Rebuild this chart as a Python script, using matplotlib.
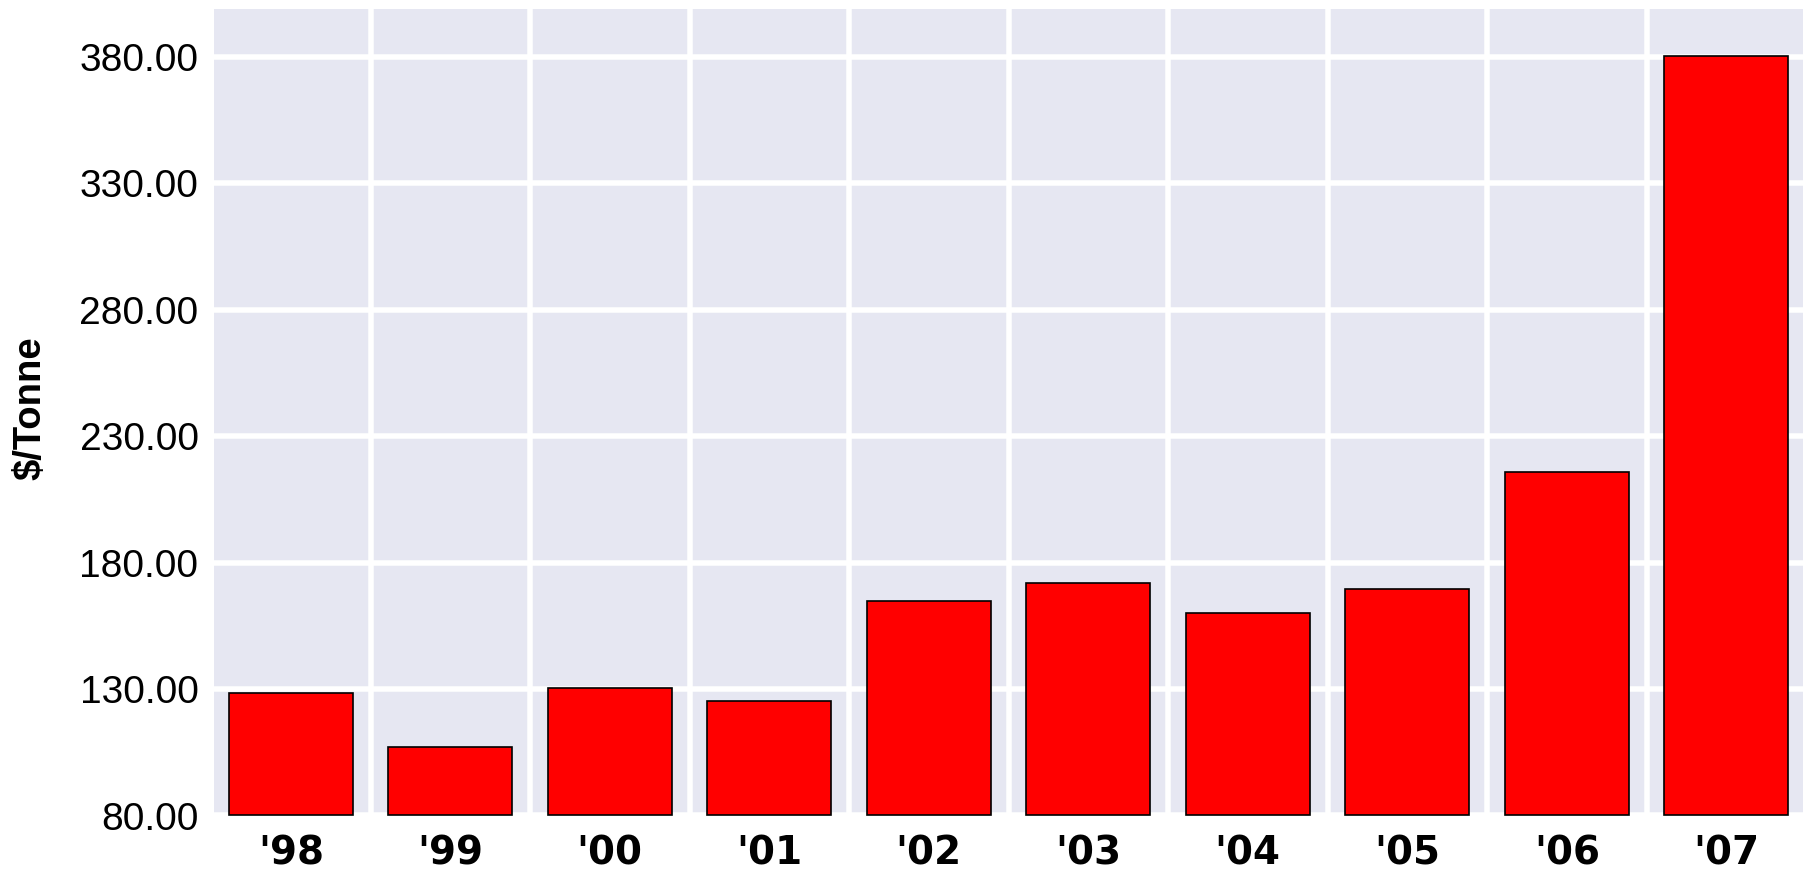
import matplotlib
matplotlib.use("Agg")
import matplotlib.pyplot as plt
from matplotlib.patches import Rectangle
from matplotlib.ticker import FixedLocator, FuncFormatter

# ---- data ----
years = ["'98", "'99", "'00", "'01", "'02", "'03", "'04", "'05", "'06", "'07"]
prices = [128.5, 107.0, 130.6, 125.2, 164.8, 172.0, 160.1, 169.4, 215.8, 380.4]
y_ticks = [80, 130, 180, 230, 280, 330, 380]
y_label = "$/Tonne"

W, H, DPI = 1809, 871, 100
fig = plt.figure(figsize=(W / DPI, H / DPI), dpi=DPI, facecolor="white")

# axes box in pixels
ax_l, ax_r, ax_t, ax_b = 211, 1806, 6.5, 815.5
ax = fig.add_axes([ax_l / W, 1 - ax_b / H, (ax_r - ax_l) / W, (ax_b - ax_t) / H])
ax.set_facecolor("white")

bg_color = "#E6E7F2"
grid_w_px = 5.5
inset = grid_w_px / 2
ax_w_px = ax_r - ax_l
ax_h_px = ax_b - ax_t
bg = Rectangle((inset / ax_w_px, inset / ax_h_px),
               1 - 2 * inset / ax_w_px, 1 - 2 * inset / ax_h_px,
               transform=ax.transAxes, facecolor=bg_color, edgecolor="none",
               zorder=0)
ax.add_patch(bg)

x = list(range(len(years)))
ax.bar(x, [p - y_ticks[0] for p in prices], bottom=y_ticks[0], width=0.78,
       color="#FF0000", edgecolor="black", linewidth=1.2, zorder=3)

ax.set_xlim(-0.5, len(years) - 0.5)
ax.set_ylim(80, 400)

# ticks
ax.yaxis.set_major_locator(FixedLocator(y_ticks))
ax.yaxis.set_major_formatter(FuncFormatter(lambda v, p: f"{v:.2f}"))
ax.set_xticks(x)
ax.set_xticklabels(years)
ax.xaxis.set_minor_locator(FixedLocator([i + 0.5 for i in range(len(years) - 1)]))

ax.tick_params(axis="both", which="both", length=0)
ax.tick_params(axis="y", pad=9)
ax.tick_params(axis="x", pad=13.5)

for lab in ax.get_yticklabels():
    lab.set_fontfamily("Liberation Sans")
    lab.set_fontsize(28)
    lab.set_color("black")
for lab in ax.get_xticklabels():
    lab.set_fontfamily("DejaVu Sans")
    lab.set_fontweight("bold")
    lab.set_fontsize(28)
    lab.set_color("black")

# gridlines (white) - horizontal at major y ticks, vertical between categories
grid_lw_pt = grid_w_px * 72 / DPI
ax.yaxis.grid(True, which="major", color="white", linewidth=grid_lw_pt, zorder=1)
ax.xaxis.grid(True, which="minor", color="white", linewidth=grid_lw_pt, zorder=1)
ax.xaxis.grid(False, which="major")
ax.set_axisbelow(True)

for s in ax.spines.values():
    s.set_visible(False)

ax.set_ylabel(y_label, fontfamily="Liberation Sans", fontweight="bold",
              fontsize=27.5, va="baseline")
ax.yaxis.set_label_coords((40 - ax_l) / ax_w_px, 0.503)

fig.savefig("out.png", dpi=DPI, facecolor="white")
